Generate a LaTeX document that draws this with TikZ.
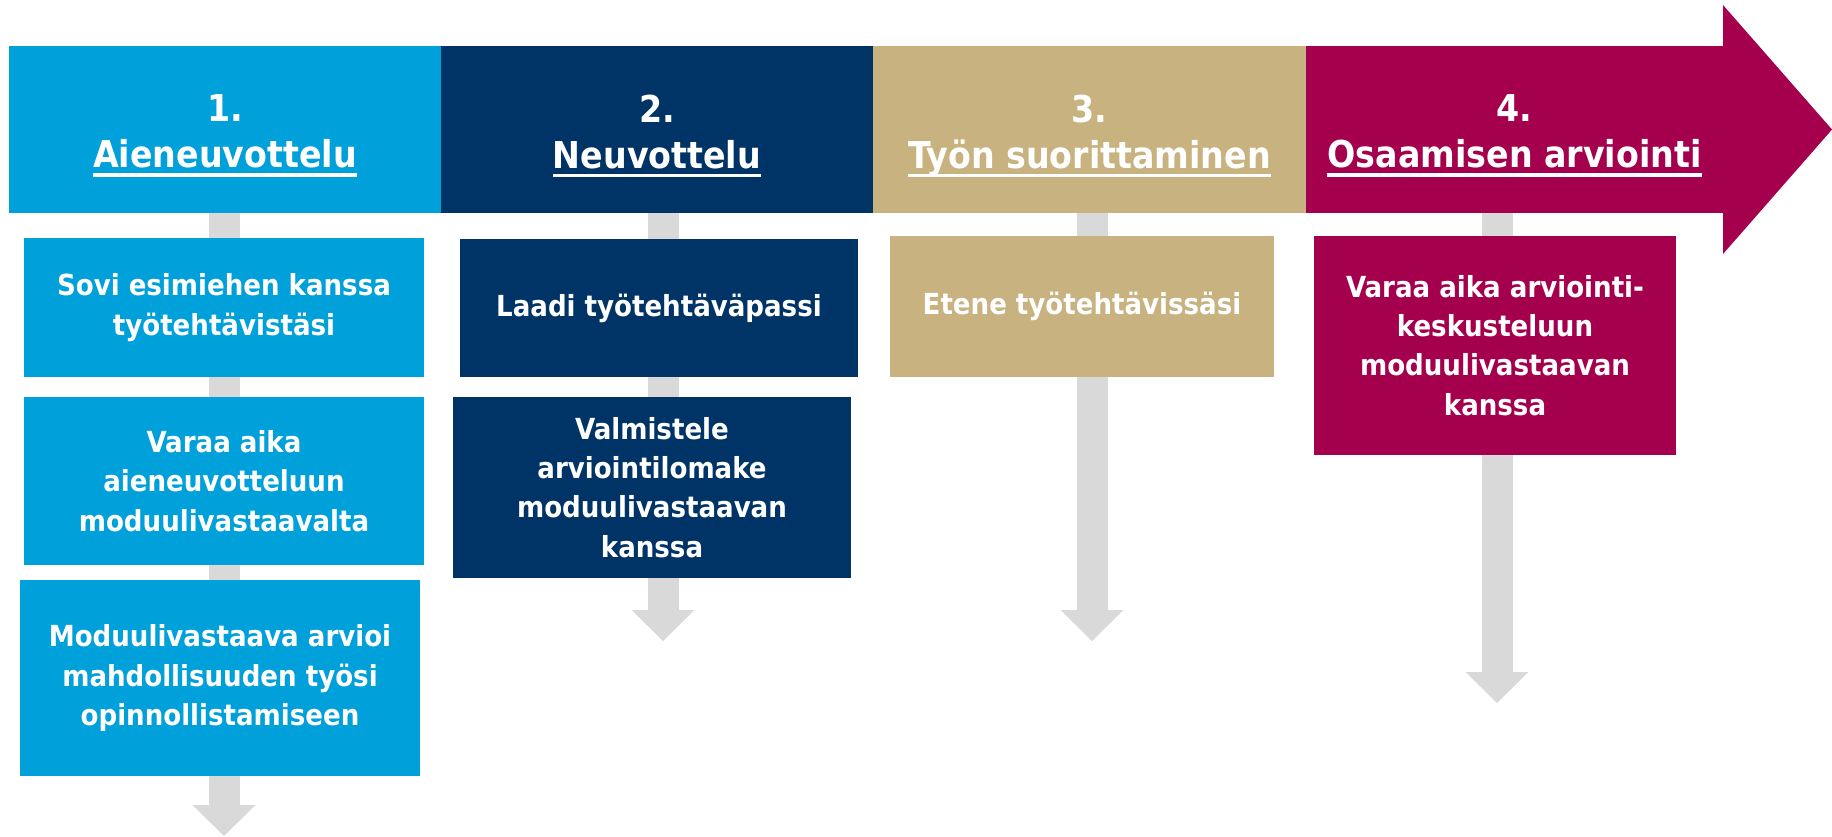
\documentclass[tikz,border=0pt]{standalone}
\usepackage{fontspec}
\setmainfont{DejaVu Sans Condensed}
\usetikzlibrary{positioning,arrows.meta,calc}
\definecolor{cyanc}{RGB}{0,160,218}
\definecolor{navyc}{RGB}{0,52,102}
\definecolor{tanc}{RGB}{199,178,128}
\definecolor{magc}{RGB}{165,0,77}
\definecolor{greyc}{RGB}{217,217,217}
\tikzset{
  hdr/.style    ={inner sep=0pt, outer sep=0pt, minimum height=167pt},
  ttl/.style    ={text=white, align=center, inner sep=0pt,
                  font=\fontsize{37}{46}\selectfont\bfseries},
  task/.style   ={text=white, align=center, inner sep=0pt, outer sep=0pt,
                  font=\fontsize{29}{39.3}\selectfont\bfseries},
  flow/.style   ={draw=greyc, line width=31pt},
  flowend/.style={flow, -{Triangle[width=63pt,length=31pt,line width=0pt]}}
}
\newcommand{\uln}[1]{\setbox0\hbox{#1}\rlap{\rule[-9pt]{\wd0}{3.5pt}}\box0}

\begin{document}
\begin{tikzpicture}[x=1pt,y=-1pt]
  \useasboundingbox (0,0) rectangle (1832,836);
  % phase band
  \node[hdr, fill=cyanc, minimum width=432pt](h1) at (225,129.5){};
  \node[hdr, fill=navyc, minimum width=432pt, right=0pt of h1](h2){};
  \node[hdr, fill=tanc,  minimum width=433pt, right=0pt of h2](h3){};
  \node[hdr, fill=magc,  minimum width=417pt, right=0pt of h3](h4){};
  \fill[magc](h4.north east) -- ++(0,-41) -- (1832,129.5)
        -- ($(h4.south east)+(0,41)$) -- (h4.south east) -- cycle;

  \node[ttl, yshift=-6.5pt](t1) at (h1){1.\\\uln{Aieneuvottelu}};
  \node[ttl, yshift=-6.5pt](t2) at (h2){2.\\\uln{Neuvottelu}};
  \node[ttl, yshift=-6.5pt](t3) at (h3){3.\\\uln{Työn suorittaminen}};
  \node[ttl, yshift=-6.5pt](t4) at (h4){4.\\\uln{Osaamisen arviointi}};

  % tasks
  \node[task, fill=cyanc, minimum width=400pt, minimum height=139pt](b1a) at (224,307.5)
       {Sovi esimiehen kanssa\\työtehtävistäsi};
  \node[task, fill=cyanc, minimum width=400pt, minimum height=168pt, below=20pt of b1a](b1b)
       {Varaa aika\\aieneuvotteluun\\moduulivastaavalta};
  \node[task, fill=cyanc, minimum width=400pt, minimum height=196pt](b1c) at (220,678)
       {Moduulivastaava arvioi\\mahdollisuuden työsi\\opinnollistamiseen};
  \node[task, fill=navyc, minimum width=398pt, minimum height=138pt](b2a) at (659,308)
       {Laadi työtehtäväpassi};
  \node[task, fill=navyc, minimum width=398pt, minimum height=181pt](b2b) at (652,487.5)
       {Valmistele\\arviointilomake\\moduulivastaavan\\kanssa};
  \node[task, fill=tanc, minimum width=384pt, minimum height=141pt](b3a) at (1082,306.5)
       {Etene työtehtävissäsi};
  \node[task, fill=magc, minimum width=362pt, minimum height=219pt](b4a) at (1495,345.5)
       {Varaa aika arviointi-\\keskusteluun\\moduulivastaavan\\kanssa};

  \coordinate(e1) at (224,836);
  \coordinate(e2) at (663,641);
  \coordinate(e3) at (1092,641);
  \coordinate(e4) at (1497,703);

  \draw[flow](h1.south -| e1) -- (b1a.north -| e1);
  \draw[flow](b1a.south -| e1) -- (b1b.north -| e1);
  \draw[flow](b1b.south -| e1) -- (b1c.north -| e1);
  \draw[flowend](b1c.south -| e1) -- (e1);
  \draw[flow](h2.south -| e2) -- (b2a.north -| e2);
  \draw[flow](b2a.south -| e2) -- (b2b.north -| e2);
  \draw[flowend](b2b.south -| e2) -- (e2);
  \draw[flow](h3.south -| e3) -- (b3a.north -| e3);
  \draw[flowend](b3a.south -| e3) -- (e3);
  \draw[flow](h4.south -| e4) -- (b4a.north -| e4);
  \draw[flowend](b4a.south -| e4) -- (e4);
\end{tikzpicture}
\end{document}
